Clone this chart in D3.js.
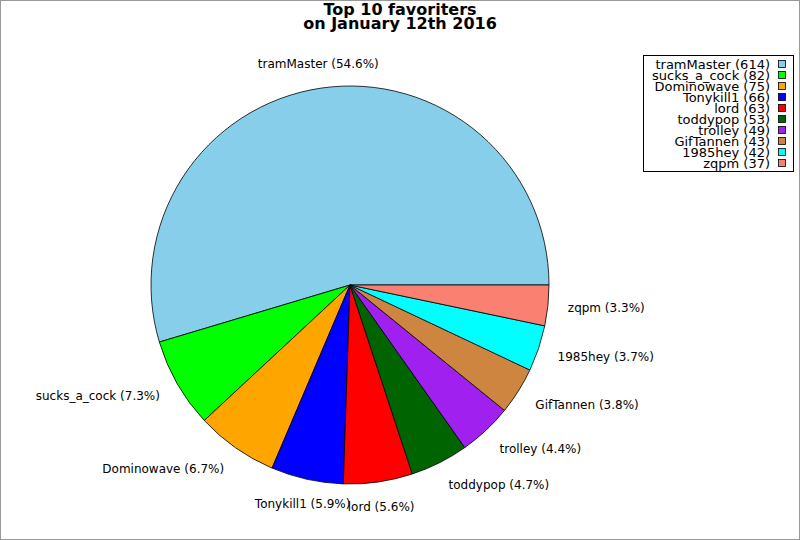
<!DOCTYPE html>
<html>
<head>
<meta charset="utf-8">
<script src="https://cdn.jsdelivr.net/npm/d3@7"></script>
<style>
  body { margin: 0; background: #fff; }
  text { font-family: "DejaVu Sans", sans-serif; fill: #000; }
</style>
</head>
<body>
<svg id="chart" width="800" height="540"></svg>
<script>
// data
var names  = ["tramMaster", "sucks_a_cock", "Dominowave", "Tonykill1", "lord",
              "toddypop", "trolley", "GifTannen", "1985hey", "zqpm"];
var counts = [614, 82, 75, 66, 63, 53, 49, 43, 42, 37];
var colors = ["#87ceeb", "#00ff00", "#ffa500", "#0000ff", "#ff0000",
              "#006400", "#a020f0", "#cd853f", "#00ffff", "#fa8072"];
var titleLines = ["Top 10 favoriters", "on January 12th 2016"];

var svg = d3.select("#chart");
var cx = 350, cy = 285, r = 199, labelR = 219;
var total = d3.sum(counts);

// outer frame
svg.append("rect")
   .attr("x", 0.5).attr("y", 0.5)
   .attr("width", 799).attr("height", 539)
   .attr("fill", "#fff").attr("stroke", "#999");

// title
svg.selectAll("text.title")
   .data(titleLines)
   .enter()
   .append("text")
   .attr("class", "title")
   .attr("x", 400)
   .attr("y", function(d, i) { return 15 + i * 14; })
   .attr("text-anchor", "middle")
   .style("font-size", "16px")
   .style("font-weight", "bold")
   .text(function(d) { return d; });

/* pie: start at 3 o'clock, go counterclockwise.
   d3 angles are clockwise from 12 o'clock, so map them */
var pie = d3.pie().sort(null)
            .startAngle(Math.PI / 2)
            .endAngle(Math.PI / 2 - 2 * Math.PI);
var arcs = pie(counts);
var arc = d3.arc().innerRadius(0).outerRadius(r);

var g = svg.append("g").attr("transform", "translate(" + cx + "," + cy + ")");

g.selectAll("path")
 .data(arcs)
 .enter()
 .append("path")
 .attr("d", arc)
 .attr("fill", function(d, i) { return colors[i]; })
 .attr("stroke", "#000")
 .attr("stroke-width", 0.8);

// slice labels
var fmt = d3.format(".1f");
g.selectAll("text.lab")
 .data(arcs)
 .enter()
 .append("text")
 .attr("class", "lab")
 .each(function(d, i) {
    var a = (d.startAngle + d.endAngle) / 2;   // clockwise from north
    var sx = Math.sin(a), sy = -Math.cos(a);   // screen direction
    var x = labelR * sx, y = labelR * sy + 5 * sy;
    var anchor = Math.abs(sx) < 0.3 ? "middle" : (sx > 0 ? "start" : "end");
    d3.select(this)
      .attr("x", x).attr("y", y)
      .attr("dy", "0.35em")
      .attr("text-anchor", anchor)
      .style("font-size", "12px")
      .text(names[i] + " (" + fmt(counts[i] / total * 100) + "%)");
 });

// legend
var legend = svg.append("g");
legend.append("rect")
      .attr("x", 643.5).attr("y", 55.5)
      .attr("width", 150).attr("height", 116)
      .attr("fill", "#fff").attr("stroke", "#000");

var rows = legend.selectAll("g.row")
   .data(names)
   .enter()
   .append("g")
   .attr("class", "row")
   .attr("transform", function(d, i) { return "translate(0," + (64 + i * 11) + ")"; });

rows.append("text")
    .attr("x", 770)
    .attr("dy", "0.35em")
    .attr("text-anchor", "end")
    .style("font-size", "13px")
    .text(function(d, i) { return d + " (" + counts[i] + ")"; });

rows.append("rect")
    .attr("x", 778.5).attr("y", -3.5)
    .attr("width", 7).attr("height", 7)
    .attr("fill", function(d, i) { return colors[i]; })
    .attr("stroke", "#000")
    .attr("stroke-width", 0.8);
</script>
</body>
</html>
